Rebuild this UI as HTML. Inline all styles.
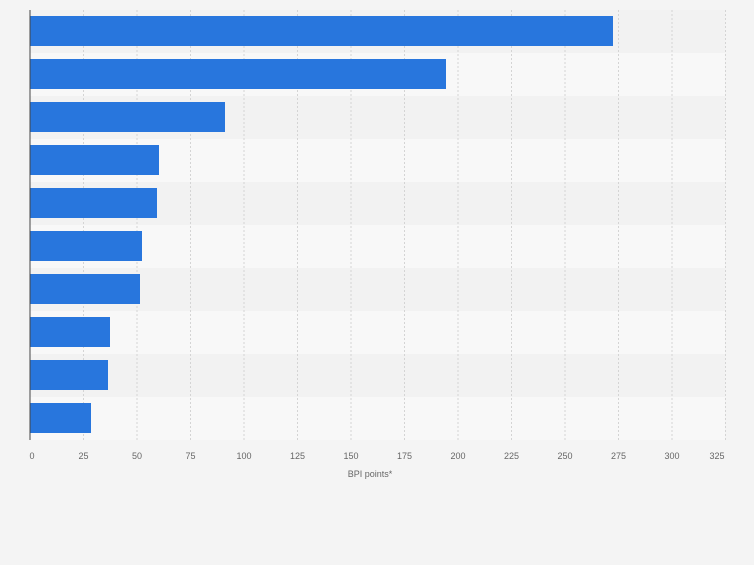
<!DOCTYPE html>
<html><head><style>
body{margin:0;background:#f4f4f4;}
</style></head><body>
<svg width="754" height="560" xmlns="http://www.w3.org/2000/svg" font-family="Liberation Sans, sans-serif">
<rect width="754" height="560" fill="#f4f4f4"/>
<g>
<rect x="30" y="10" width="695" height="43" fill="#f2f2f2"/>
<rect x="30" y="53" width="695" height="43" fill="#f8f8f8"/>
<rect x="30" y="96" width="695" height="43" fill="#f2f2f2"/>
<rect x="30" y="139" width="695" height="43" fill="#f8f8f8"/>
<rect x="30" y="182" width="695" height="43" fill="#f2f2f2"/>
<rect x="30" y="225" width="695" height="43" fill="#f8f8f8"/>
<rect x="30" y="268" width="695" height="43" fill="#f2f2f2"/>
<rect x="30" y="311" width="695" height="43" fill="#f8f8f8"/>
<rect x="30" y="354" width="695" height="43" fill="#f2f2f2"/>
<rect x="30" y="397" width="695" height="43" fill="#f8f8f8"/>
</g>
<g stroke="#d4d4d4" stroke-dasharray="2,2" stroke-width="1">
<line x1="83.5" y1="10" x2="83.5" y2="440"/><line x1="137" y1="10" x2="137" y2="440"/>
<line x1="190.5" y1="10" x2="190.5" y2="440"/><line x1="244" y1="10" x2="244" y2="440"/>
<line x1="297.5" y1="10" x2="297.5" y2="440"/><line x1="351" y1="10" x2="351" y2="440"/>
<line x1="404.5" y1="10" x2="404.5" y2="440"/><line x1="458" y1="10" x2="458" y2="440"/>
<line x1="511.5" y1="10" x2="511.5" y2="440"/><line x1="565" y1="10" x2="565" y2="440"/>
<line x1="618.5" y1="10" x2="618.5" y2="440"/><line x1="672" y1="10" x2="672" y2="440"/>
<line x1="725.5" y1="10" x2="725.5" y2="440"/>
</g>
<g fill="#2876dd">
<rect x="30" y="16" width="583" height="30"/>
<rect x="30" y="59" width="416" height="30"/>
<rect x="30" y="102" width="195" height="30"/>
<rect x="30" y="145" width="129" height="30"/>
<rect x="30" y="188" width="127" height="30"/>
<rect x="30" y="231" width="112" height="30"/>
<rect x="30" y="274" width="110" height="30"/>
<rect x="30" y="317" width="80" height="30"/>
<rect x="30" y="360" width="78" height="30"/>
<rect x="30" y="403" width="61" height="30"/>
</g>
<line x1="30" y1="10" x2="30" y2="440" stroke="#444" stroke-width="1"/>
<g font-size="9" fill="#666" text-anchor="middle">
<text x="32" y="459">0</text><text x="83.5" y="459">25</text><text x="137" y="459">50</text>
<text x="190.5" y="459">75</text><text x="244" y="459">100</text><text x="297.5" y="459">125</text>
<text x="351" y="459">150</text><text x="404.5" y="459">175</text><text x="458" y="459">200</text>
<text x="511.5" y="459">225</text><text x="565" y="459">250</text><text x="618.5" y="459">275</text>
<text x="672" y="459">300</text><text x="717" y="459">325</text>
<text x="370" y="477">BPI points*</text>
</g>
</svg>
</body></html>
